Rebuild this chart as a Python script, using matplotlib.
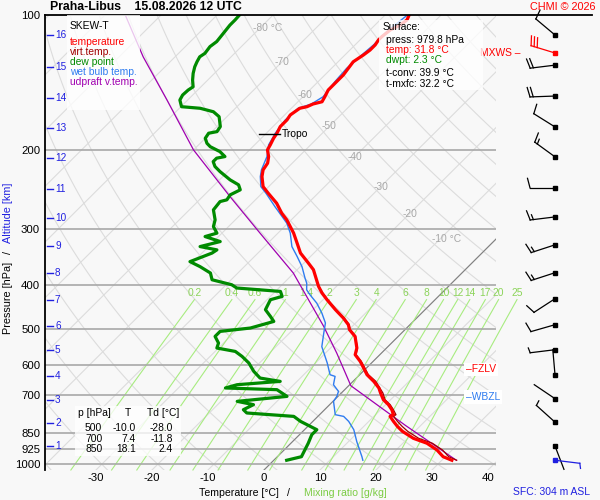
import numpy as np
import matplotlib
matplotlib.use('Agg')
import matplotlib.pyplot as plt
from matplotlib.lines import Line2D
from matplotlib.patches import Rectangle
from matplotlib.transforms import IdentityTransform
from matplotlib.ticker import NullLocator, NullFormatter

plt.rcParams['font.family'] = ['Liberation Sans', 'DejaVu Sans']
plt.rcParams['font.size'] = 7.4

# ---- sounding data ----
temp_p = [100.0, 102.6, 105.3, 108.0, 111.8, 113.7, 116.6, 119.7, 122.8, 124.9, 127.1, 131.5,
          136.0, 140.8, 146.9, 152.0, 156.0, 157.8, 160.0, 161.3, 166.9, 171.2, 177.2, 183.3,
          188.1, 194.6, 199.7, 206.6, 213.7, 221.2, 228.9, 241.0, 249.3, 262.4, 276.2, 285.8,
          305.9, 321.9, 338.8, 356.6, 369.0, 401.9, 415.7, 430.3, 452.9, 472.6, 489.1, 501.8,
          519.4, 551.2, 570.4, 590.3, 610.6, 632.0, 654.0, 676.5, 694.1, 718.3, 736.9, 756.1,
          775.7, 782.5, 802.8, 823.7, 845.0, 875.7, 898.0, 929.6, 962.1, 979.8]
temp_t = [-55.7, -55.2, -55.5, -56.4, -56.7, -56.7, -56.4, -56.4, -56.7, -57.0, -57.3, -57.0,
          -56.7, -56.7, -56.7, -56.1, -55.7, -56.9, -57.5, -58.5, -59.0, -58.7, -58.7, -58.1,
          -57.8, -57.2, -56.8, -55.4, -54.4, -54.0, -53.0, -51.0, -48.9, -45.6, -42.9, -40.8,
          -37.2, -34.8, -32.4, -29.2, -27.1, -23.2, -21.4, -19.3, -16.0, -13.1, -11.0, -9.9,
          -7.7, -5.3, -4.4, -2.3, -0.5, 1.3, 3.7, 5.8, 7.0, 8.7, 10.5, 12.0,
          13.2, 12.9, 14.4, 16.0, 17.8, 21.0, 24.3, 27.3, 29.6, 31.8]

dew_p = [100.0, 102.6, 105.3, 109.8, 114.6, 117.6, 121.7, 123.9, 127.1, 130.4, 134.9, 139.6,
         144.5, 146.9, 150.7, 154.6, 160.0, 161.3, 164.2, 168.4, 177.2, 181.8, 183.3, 188.1,
         193.0, 196.4, 201.4, 206.6, 208.3, 212.0, 217.4, 223.1, 232.8, 238.8, 245.0, 251.4,
         257.9, 260.2, 271.5, 285.8, 295.8, 305.9, 311.3, 319.4, 327.7, 333.3, 338.8, 354.0,
         363.2, 375.3, 388.5, 398.5, 405.3, 412.4, 423.1, 430.3, 445.3, 452.9, 468.8, 481.0,
         497.5, 506.2, 519.4, 537.3, 551.2, 560.9, 575.4, 595.2, 621.5, 642.9, 654.0, 665.2,
         676.5, 682.4, 706.3, 724.5, 736.9, 756.1, 769.0, 782.5, 802.8, 830.5, 837.7, 859.5,
         898.0, 929.6, 962.1, 979.8]
dew_t = [-86.0, -85.9, -85.9, -85.6, -85.3, -85.6, -85.3, -85.6, -85.2, -84.7, -83.8, -82.7,
         -81.4, -81.7, -81.8, -81.4, -79.9, -76.3, -73.3, -71.4, -69.4, -69.1, -70.3, -70.0,
         -68.8, -67.6, -65.0, -63.2, -64.4, -64.4, -63.2, -61.4, -58.1, -55.7, -54.5, -55.4,
         -55.1, -56.0, -55.7, -53.6, -52.7, -50.9, -52.4, -48.8, -51.5, -47.9, -48.2, -50.6,
         -47.9, -44.9, -43.4, -39.0, -37.5, -29.1, -27.9, -29.4, -28.8, -28.5, -26.4, -24.9,
         -27.9, -32.7, -32.7, -30.9, -30.3, -26.4, -24.3, -21.9, -19.5, -17.2, -13.0, -20.1,
         -21.6, -12.1, -9.1, -17.1, -13.6, -14.5, -13.3, -4.3, -2.2, 1.3, 2.2, 2.2,
         3.1, 3.7, 4.3, 2.3]

wb_p = [100.0, 108.0, 116.6, 122.8, 131.5, 140.8, 152.0, 157.8, 161.3, 171.2, 183.3, 194.6,
        206.6, 221.2, 228.9, 241.0, 249.3, 267.0, 290.7, 305.9, 327.7, 344.7, 363.2, 385.2,
        395.2, 409.1, 419.7, 438.0, 461.0, 484.9, 510.4, 547.4, 595.2, 632.0, 637.5, 665.2,
        688.4, 706.3, 724.5, 775.7, 782.5, 802.8, 837.7, 891.0, 937.8, 962.1, 979.8]
wb_t = [-56.0, -56.7, -56.7, -57.0, -57.3, -57.0, -56.4, -57.2, -58.8, -59.0, -58.4, -57.5,
        -55.7, -54.3, -53.3, -51.4, -49.3, -45.3, -40.2, -37.8, -35.1, -32.4, -29.7, -27.1,
        -25.9, -24.7, -23.2, -20.5, -17.8, -15.4, -13.9, -11.8, -7.9, -5.3, -4.1, -2.9,
        -0.8, -0.2, 0.1, 2.8, 4.6, 6.4, 8.8, 11.5, 13.9, 15.1, 15.9]

parcel_p = [100.0, 123.9, 154.6, 199.7, 253.7, 305.9, 375.3, 493.4, 565.5, 668.8, 820.0, 979.8]
parcel_t = [-106.4, -95.7, -83.7, -70.0, -55.1, -43.2, -30.1, -15.1, -8.0, 0.4, 17.3, 32.6]

# wind barbs (direction deg, speed kt)
wind_p = [110.8, 121.5, 129.3, 151.5, 177.5, 206.9, 242.5, 281.5, 324.8, 374.7, 428.1, 489.1,
          556.0, 632.0, 714.6, 806.0, 910.8]
wind_dir = [310, 287, 263, 268, 302, 306, 270, 263, 252, 252, 237, 254, 263, 355, 304, 312, 159]
wind_spd = [10, 30, 20, 20, 10, 15, 10, 15, 15, 15, 10, 10, 5, 0, 0, 5, 0]
mxws_index = 1
sfc_wind_dir, sfc_wind_spd = 97, 5

# surface / diagnostic values
sfc_press, sfc_temp, sfc_dwpt = 979.8, 31.8, 2.3
t_conv, t_mxfc = 39.9, 32.2
sfc_alt = 304
tropo_p, tropo_t = 184.4, -58.1
fzlv_p, wbzl_p = 615.0, 708.0

table_p = [500, 700, 850]
table_t = [-10.0, 7.4, 18.1]
table_td = [-28.0, -11.8, 2.4]

# axes furniture
p_levels = [100, 200, 300, 400, 500, 600, 700, 850, 925, 1000]
t_ticks = [-30, -20, -10, 0, 10, 20, 30, 40]
alt_km = [16, 15, 14, 13, 12, 11, 10, 9, 8, 7, 6, 5, 4, 3, 2, 1]
alt_p = [110.8, 130.4, 152.8, 178.6, 208.3, 244.1, 283.4, 326.0, 375.3, 430.3, 491.6, 558.0,
         634.6, 718.3, 808.9, 909.4]
mix_w = [0.2, 0.4, 0.6, 1, 1.4, 2, 3, 4, 6, 8, 10, 12, 14, 17, 20, 25]
iso_lab_t = [-80, -70, -60, -50, -40, -30, -20, -10]
iso_lab_p = [106.7, 127.4, 150.6, 176.9, 206.9, 241.0, 276.8, 315.7]

P_BOT, P_TOP = 1030.0, 100.0
SKEW = 35.0
BG = '#f8f8f8'
C_T, C_TV, C_TD = '#ff0000', '#a00000', '#008a00'
C_WB, C_PAR, C_ALT = '#2f7cf0', '#a000b0', '#2020e0'
C_MIX, C_MIXLAB = '#a8ec80', '#8cd45a'
C_GRID = '#dcdcdc'


def skx(t, p):
    return np.asarray(t, float) + SKEW * np.log(P_BOT / np.asarray(p, float))


def sat_vp(t):
    return 6.112 * np.exp(17.67 * t / (t + 243.5))


def td_from_w(w, p):
    e = w * p / (622.0 + w)
    a = np.log(e / 6.112)
    return 243.5 * a / (17.67 - a)


W, H = 600, 500
def fx(x):
    return x / W
def fy(y):
    return 1 - y / H


fig = plt.figure(figsize=(6, 5), dpi=100, facecolor=BG)
ax = fig.add_axes([fx(45), fy(470), (496 - 45) / W, (470 - 15) / H])
ax.set_facecolor(BG)
ax.set_yscale('log')
ax.set_ylim(P_BOT, P_TOP)
ax.set_xlim((45 - 264) / 5.6, (496 - 264) / 5.6)

pp = np.geomspace(P_BOT, P_TOP, 80)
# isotherms
for t in range(-130, 50, 10):
    ax.plot(skx(t, pp), pp, color=C_GRID, lw=0.8, zorder=1)
ax.plot(skx(0, pp), pp, color='#808080', lw=0.8, zorder=1.2)
# dry adiabats
for th in range(-40, 190, 10):
    tt = (th + 273.15) * (pp / 1000.0) ** 0.286 - 273.15
    ax.plot(skx(tt, pp), pp, color=C_GRID, lw=0.8, zorder=1)
# mixing ratio lines
pm = np.geomspace(P_BOT, 430, 30)
for w in mix_w:
    ax.plot(skx(td_from_w(w, pm), pm), pm, color=C_MIX, lw=0.8, zorder=1.5, clip_on=False)
    ax.annotate(f'{w:g}', xy=(skx(td_from_w(w, 430), 430), 430), xytext=(0, 4.5),
                textcoords='offset points', ha='center', va='center', color=C_MIXLAB,
                fontsize=7.4, annotation_clip=False)

for p in p_levels[1:]:
    ax.axhline(p, color='#a8a8a8', lw=1.2, zorder=2)

# isotherm labels
for t, p in zip(iso_lab_t, iso_lab_p):
    if t in (-80, -10):
        ax.annotate(f'{t} °C', xy=(skx(t, p), p), xytext=(-5.3, 0), textcoords='offset points',
                    ha='left', va='center', color='#a8a8a8', fontsize=7.4)
    else:
        ax.annotate(f'{t}', xy=(skx(t, p), p), ha='center', va='center',
                    color='#a8a8a8', fontsize=7.4)

# virtual temperature from T and Td
tp = np.array(temp_p)
tt = np.array(temp_t)
td_on_t = np.interp(np.log(tp), np.log(dew_p), dew_t)
e_t = sat_vp(td_on_t)
w_t = 0.622 * e_t / (tp - e_t)
tv = (tt + 273.15) * (1 + 0.61 * w_t) - 273.15

ax.plot(skx(parcel_t, parcel_p), parcel_p, color=C_PAR, lw=0.9, zorder=3)
ax.plot(skx(wb_t, wb_p), wb_p, color=C_WB, lw=1.0, zorder=4)
ax.plot(skx(tv, tp), tp, color=C_TV, lw=0.9, zorder=4.5)
ax.plot(skx(tt, tp), tp, color=C_T, lw=2.3, zorder=5)
ax.plot(skx(dew_t, dew_p), dew_p, color=C_TD, lw=2.3, zorder=5)

# tropopause
xt = float(skx(tropo_t, tropo_p))
ax.plot([xt - 3.0, xt + 0.75], [tropo_p, tropo_p], color='black', lw=1.0, zorder=6)
ax.text(xt + 1.05, tropo_p, 'Tropo', ha='left', va='center', color='black', zorder=6)

# FZLV / WBZL
ya = ax.get_yaxis_transform()
ax.text((466 - 45) / 451, fzlv_p, '\u2013FZLV', transform=ya, ha='left', va='center',
        color=C_T, clip_on=False, zorder=7,
        bbox=dict(facecolor='white', edgecolor='none', pad=1.2))
ax.text((466 - 45) / 451, wbzl_p, '\u2013WBZL', transform=ya, ha='left', va='center',
        color=C_WB, clip_on=False, zorder=7,
        bbox=dict(facecolor='white', edgecolor='none', pad=1.2))
ax.text((521 - 45) / 451, wind_p[mxws_index], 'MXWS \u2013', transform=ya, ha='right',
        va='center', color=C_T, clip_on=False)

# altitude ticks
for km, p in zip(alt_km, alt_p):
    ax.plot([2 / 451, 8 / 451], [p, p], transform=ya, color=C_ALT, lw=1.0, clip_on=False, zorder=6)
    ax.text(10 / 451, p, str(km), transform=ya, ha='left', va='center', color=C_ALT,
            fontsize=7.2, zorder=6)

# axes styling
ax.set_yticks(p_levels)
ax.set_yticklabels([str(p) for p in p_levels])
ax.yaxis.set_minor_locator(NullLocator())
ax.yaxis.set_minor_formatter(NullFormatter())
ax.set_xticks(t_ticks)
ax.set_xticklabels([str(t) for t in t_ticks])
ax.tick_params(axis='y', length=0, pad=3.5, labelsize=8.2)
ax.tick_params(axis='x', length=0, pad=2.5, labelsize=8.2)
for s in ('top', 'right', 'bottom'):
    ax.spines[s].set_visible(False)
ax.spines['left'].set_color('black')
ax.spines['left'].set_linewidth(1.3)
fig.add_artist(Line2D([fx(45), fx(592)], [fy(15), fy(15)], transform=fig.transFigure,
                      color='black', lw=1.3))

# wind barbs drawn in display pixels
ident = IdentityTransform()


def draw_barb(x0, p, wdir, wspd, color, L=25.0):
    y0 = ax.transData.transform((0, p))[1]
    a = np.deg2rad(wdir)
    sx, sy = np.sin(a), np.cos(a)
    nx, ny = sy, -sx
    ex, ey = x0 + L * sx, y0 + L * sy
    fig.add_artist(Line2D([x0, ex], [y0, ey], transform=ident, color=color, lw=0.9))
    n5 = int(round(wspd / 5.0))
    full, half = divmod(n5, 2)
    pos = 0.0
    for _ in range(full):
        bx, by = ex - pos * sx, ey - pos * sy
        fig.add_artist(Line2D([bx, bx + 9.5 * nx + 2.5 * sx], [by, by + 9.5 * ny + 2.5 * sy],
                              transform=ident, color=color, lw=0.9))
        pos += 3.2
    if half:
        bx, by = ex - pos * sx, ey - pos * sy
        fig.add_artist(Line2D([bx, bx + 5 * nx + 1.3 * sx], [by, by + 5 * ny + 1.3 * sy],
                              transform=ident, color=color, lw=0.9))
    fig.add_artist(Line2D([x0], [y0], transform=ident, marker='s', ms=2.6, color=color,
                          lw=0))


for i, (p, d, s) in enumerate(zip(wind_p, wind_dir, wind_spd)):
    draw_barb(555, p, d, s, C_T if i == mxws_index else 'black')
draw_barb(555, sfc_press, sfc_wind_dir, sfc_wind_spd, C_ALT)

# boxes
def box(x0, y0, x1, y1):
    fig.add_artist(Rectangle((fx(x0), fy(y1)), (x1 - x0) / W, (y1 - y0) / H,
                             transform=fig.transFigure, facecolor='white', edgecolor='none',
                             alpha=0.78, zorder=10))


box(67, 15, 140, 110)
box(379, 20, 483, 90)
box(75, 406, 181, 456)

legend = [('SKEW-T', 'black', 26), ('temperature', C_T, 42.3), ('virt.temp.', C_TV, 52.3),
          ('dew point', C_TD, 62), ('wet bulb temp.', C_WB, 72), ('udpraft v.temp.', C_PAR, 82)]
for txt, c, y in legend:
    fig.text(fx(70), fy(y), txt, color=c, ha='left', va='center', zorder=11)

sfc_lines = [('Surface:', 'black', 382.7, 27.3),
             (f'press: {sfc_press:.1f} hPa', 'black', 386, 40),
             (f'temp: {sfc_temp:.1f} °C', C_T, 386, 50),
             (f'dwpt: {sfc_dwpt:.1f} °C', C_TD, 386, 60),
             (f't-conv: {t_conv:.1f} °C', 'black', 386, 73.3),
             (f't-mxfc: {t_mxfc:.1f} °C', 'black', 386, 84.3)]
for txt, c, x, y in sfc_lines:
    fig.text(fx(x), fy(y), txt, color=c, ha='left', va='center', zorder=11)

fig.text(fx(78.3), fy(413.3), 'p [hPa]', ha='left', va='center', zorder=11)
fig.text(fx(127.5), fy(413.3), 'T', ha='center', va='center', zorder=11)
fig.text(fx(146.7), fy(413.3), 'Td [°C]', ha='left', va='center', zorder=11)
for k, y in enumerate([428.3, 439, 449.5]):
    fig.text(fx(102.3), fy(y), str(table_p[k]), ha='right', va='center', zorder=11)
    fig.text(fx(136), fy(y), f'{table_t[k]:.1f}', ha='right', va='center', zorder=11)
    fig.text(fx(172.7), fy(y), f'{table_td[k]:.1f}', ha='right', va='center', zorder=11)

# titles and labels
fig.text(fx(50), fy(7.5), 'Praha-Libus    15.08.2026 12 UTC', ha='left', va='center',
         fontsize=8.8, fontweight='bold')
fig.text(fx(596), fy(7.5), 'CHMI © 2026', ha='right', va='center', color=C_T, fontsize=7.8)
fig.text(fx(590), fy(492), f'SFC: {sfc_alt} m ASL', ha='right', va='center', color=C_ALT,
         fontsize=7.5)
fig.text(fx(239), fy(493), 'Temperature [°C]', ha='center', va='center', fontsize=7.6)
fig.text(fx(288), fy(493), '/', ha='center', va='center', fontsize=7.6)
fig.text(fx(345), fy(493), 'Mixing ratio [g/kg]', ha='center', va='center', fontsize=7.6,
         color='#7ccc44')
fig.text(fx(8), fy(297.5), 'Pressure [hPa]', rotation=90, ha='center', va='center', fontsize=7.8)
fig.text(fx(8), fy(253), '/', rotation=90, ha='center', va='center', fontsize=7.8)
fig.text(fx(8), fy(213.3), 'Altitude [km]', rotation=90, ha='center', va='center',
         fontsize=7.8, color=C_ALT)

fig.savefig('out.png', dpi=100, facecolor=BG)
